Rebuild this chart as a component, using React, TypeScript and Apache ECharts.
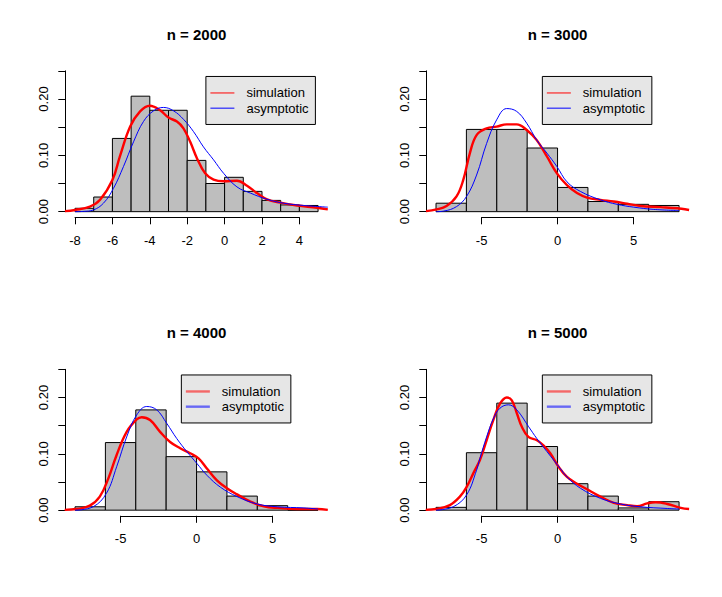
import React, { useEffect, useRef } from "react";
import * as echarts from "echarts";

// ---------------- data ----------------
const panelTitles = ["n = 2000", "n = 3000", "n = 4000", "n = 5000"];
const legendLabels = ["simulation", "asymptotic"];

const breaks2000 = [-8, -7, -6, -5, -4, -3, -2, -1, 0, 1, 2, 3, 4, 5];
const density2000 = [0.006, 0.026, 0.13, 0.205, 0.18, 0.18, 0.091, 0.05, 0.061, 0.036, 0.02, 0.012, 0.011];
const breaksWide = [-8, -6, -4, -2, 0, 2, 4, 6, 8];
const density3000 = [0.015, 0.146, 0.146, 0.113, 0.043, 0.018, 0.013, 0.011];
const density4000 = [0.006, 0.12, 0.178, 0.095, 0.068, 0.025, 0.008, 0];
const density5000 = [0.005, 0.102, 0.19, 0.113, 0.047, 0.025, 0.004, 0.015];

const sim2000 = [[-8.54, 0.001], [-8, 0.003], [-7.2, 0.009], [-6.66, 0.021], [-6, 0.056], [-5.6, 0.098], [-5.05, 0.151], [-4.52, 0.178], [-4, 0.188], [-3.45, 0.18], [-3, 0.167], [-2.55, 0.16], [-2.2, 0.148], [-1.84, 0.124], [-1.48, 0.095], [-1.04, 0.068], [-0.59, 0.057], [-0.05, 0.054], [0.66, 0.055], [1.2, 0.046], [1.73, 0.033], [2.27, 0.022], [2.98, 0.016], [3.88, 0.011], [4.95, 0.007], [5.52, 0.004]];
const asy2000 = [[-8, 0], [-7.55, 0.0005], [-7.02, 0.003], [-6.48, 0.015], [-5.95, 0.041], [-5.41, 0.08], [-4.87, 0.124], [-4.34, 0.16], [-3.8, 0.179], [-3.27, 0.185], [-2.73, 0.179], [-2.2, 0.164], [-1.66, 0.142], [-1.13, 0.115], [-0.59, 0.092], [-0.05, 0.068], [0.66, 0.044], [1.38, 0.033], [2.27, 0.022], [3.16, 0.015], [4.23, 0.011], [5.52, 0.008]];

const sim3000 = [[-8.66, 0.001], [-7.97, 0.004], [-7.31, 0.01], [-6.65, 0.027], [-6.21, 0.056], [-5.77, 0.104], [-5.33, 0.136], [-4.67, 0.148], [-4.01, 0.151], [-3.35, 0.155], [-2.69, 0.155], [-2.03, 0.145], [-1.37, 0.127], [-0.7, 0.098], [-0.04, 0.068], [0.62, 0.047], [1.28, 0.033], [1.94, 0.025], [2.82, 0.021], [3.7, 0.018], [4.58, 0.014], [5.46, 0.01], [6.78, 0.008], [7.89, 0.006], [8.66, 0.003]];
const asy3000 = [[-8, 0], [-7.5, 0.001], [-6.65, 0.009], [-5.99, 0.027], [-5.33, 0.065], [-4.67, 0.121], [-4.01, 0.163], [-3.35, 0.183], [-2.69, 0.178], [-2.03, 0.157], [-1.37, 0.127], [-0.7, 0.104], [-0.04, 0.08], [0.62, 0.053], [1.5, 0.036], [2.82, 0.021], [3.92, 0.013], [5.02, 0.008], [6.34, 0.004], [8, 0.002]];

const sim4000 = [[-8.68, 0.0006], [-7.91, 0.002], [-7.03, 0.008], [-6.37, 0.024], [-5.81, 0.056], [-5.26, 0.098], [-4.6, 0.139], [-3.94, 0.161], [-3.61, 0.165], [-3.06, 0.16], [-2.4, 0.139], [-1.74, 0.121], [-1.08, 0.11], [-0.42, 0.101], [0.13, 0.092], [0.68, 0.074], [1.34, 0.053], [2.0, 0.039], [2.67, 0.028], [3.55, 0.015], [4.43, 0.007], [5.31, 0.004], [6.63, 0.002], [7.95, 0.002], [8.64, 0.0006]];
const asy4000 = [[-8, 0], [-6.81, 0.006], [-5.93, 0.03], [-5.26, 0.077], [-4.6, 0.13], [-3.94, 0.169], [-3.28, 0.184], [-2.62, 0.178], [-1.96, 0.154], [-1.3, 0.127], [-0.64, 0.104], [0.02, 0.083], [0.68, 0.062], [1.56, 0.041], [2.67, 0.024], [3.99, 0.011], [5.31, 0.006], [7.07, 0.004], [8, 0.002]];

const sim5000 = [[-8.68, 0.0006], [-7.97, 0.002], [-7.09, 0.009], [-6.43, 0.024], [-5.99, 0.041], [-5.5, 0.068], [-5.11, 0.089], [-4.67, 0.124], [-4.23, 0.16], [-3.79, 0.189], [-3.34, 0.2], [-3.01, 0.195], [-2.68, 0.172], [-2.35, 0.148], [-1.92, 0.13], [-1.36, 0.124], [-0.93, 0.115], [-0.48, 0.101], [0.07, 0.077], [0.62, 0.059], [1.28, 0.047], [1.94, 0.037], [2.82, 0.024], [3.7, 0.013], [4.58, 0.009], [5.24, 0.007], [5.9, 0.012], [6.45, 0.014], [7.22, 0.011], [8.11, 0.004], [8.66, 0.002]];
const asy5000 = [[-8, 0], [-6.87, 0.006], [-5.99, 0.027], [-5.33, 0.071], [-5.11, 0.092], [-4.67, 0.13], [-4.23, 0.162], [-3.79, 0.181], [-3.23, 0.187], [-2.68, 0.178], [-1.9, 0.148], [-1.36, 0.127], [-0.7, 0.104], [0.18, 0.074], [0.62, 0.059], [1.5, 0.039], [2.82, 0.021], [4.14, 0.011], [5.46, 0.006], [7.22, 0.003], [8, 0.002]];

const xTicks2000 = [-8, 4, 2]; // min, max, step
const xTicksWide = [-5, 5, 5];
const yTicks = [0, 0.25, 0.05]; // min, max, step
const yLabelStep = 0.1;
const yLim = [-0.01, 0.26];
const legendAnchor = [-1, 0.24];

const panels = [
  { title: panelTitles[0], breaks: breaks2000, dens: density2000, sim: sim2000, asy: asy2000, xt: xTicks2000 },
  { title: panelTitles[1], breaks: breaksWide, dens: density3000, sim: sim3000, asy: asy3000, xt: xTicksWide },
  { title: panelTitles[2], breaks: breaksWide, dens: density4000, sim: sim4000, asy: asy4000, xt: xTicksWide },
  { title: panelTitles[3], breaks: breaksWide, dens: density5000, sim: sim5000, asy: asy5000, xt: xTicksWide },
];

// ---------------- layout ----------------
const W = 722;
const H = 597;
const plotLefts = [65.3, 426.3, 65.3, 426.3];
const plotTops = [65.2, 65.2, 363.7, 363.7];
const plotW = 262.5;
const plotH = 152.1;
const FONT = "'Liberation Sans', Arial, Helvetica, sans-serif";

function buildOption() {
  const grid: any[] = [];
  const xAxis: any[] = [];
  const yAxis: any[] = [];
  const series: any[] = [];
  const graphic: any[] = [];

  panels.forEach((p, i) => {
    const left = plotLefts[i];
    const top = plotTops[i];
    const lo = p.breaks[0];
    const hi = p.breaks[p.breaks.length - 1];
    const ext = 0.04 * (hi - lo);
    const xmin = lo - ext;
    const xmax = hi + ext;
    const px = (v: number) => left + ((v - xmin) / (xmax - xmin)) * plotW;
    const py = (v: number) => top + ((yLim[1] - v) / (yLim[1] - yLim[0])) * plotH;

    const gMain = grid.length;
    grid.push({ left, top, width: plotW, height: plotH, containLabel: false });
    xAxis.push({ type: "value", gridIndex: gMain, min: xmin, max: xmax, show: false });
    yAxis.push({ type: "value", gridIndex: gMain, min: yLim[0], max: yLim[1], show: false });

    // y axis grid (spans 0..0.25 exactly)
    const gY = grid.length;
    grid.push({ left, top: py(yTicks[1]), width: plotW, height: py(yTicks[0]) - py(yTicks[1]) });
    xAxis.push({ type: "value", gridIndex: gY, min: 0, max: 1, show: false });
    yAxis.push({
      type: "value",
      gridIndex: gY,
      min: yTicks[0],
      max: yTicks[1],
      interval: yTicks[2],
      axisLine: { show: true, lineStyle: { color: "#000", width: 1 } },
      axisTick: { show: true, length: 7, lineStyle: { color: "#000", width: 1 } },
      splitLine: { show: false },
      axisLabel: {
        show: true,
        rotate: 90,
        margin: 15.5,
        color: "#000",
        fontSize: 13,
        fontFamily: FONT,
        formatter: (v: number) => {
          const k = v / yLabelStep;
          return Math.abs(k - Math.round(k)) < 1e-6 ? v.toFixed(2) : "";
        },
      },
    });

    // x axis grid (spans first..last tick)
    const gX = grid.length;
    const x0 = px(p.xt[0]);
    const x1 = px(p.xt[1]);
    grid.push({ left: x0, top: top + plotH - 10, width: x1 - x0, height: 10 });
    xAxis.push({
      type: "value",
      gridIndex: gX,
      position: "bottom",
      min: p.xt[0],
      max: p.xt[1],
      interval: p.xt[2],
      axisLine: { show: true, onZero: false, lineStyle: { color: "#000", width: 1 } },
      axisTick: { show: true, length: 7, lineStyle: { color: "#000", width: 1 } },
      splitLine: { show: false },
      axisLabel: { show: true, margin: 16.5, color: "#000", fontSize: 13, fontFamily: FONT },
    });
    yAxis.push({ type: "value", gridIndex: gX, min: 0, max: 1, show: false });

    // histogram
    const bins = p.dens.map((d, k) => [p.breaks[k], p.breaks[k + 1], d]);
    series.push({
      type: "custom",
      xAxisIndex: gMain,
      yAxisIndex: gMain,
      data: bins,
      encode: { x: [0, 1], y: 2 },
      clip: true,
      z: 1,
      renderItem: (_params: any, api: any) => {
        const a = api.coord([api.value(0), api.value(2)]);
        const b = api.coord([api.value(1), 0]);
        return {
          type: "rect",
          shape: { x: a[0], y: a[1], width: b[0] - a[0], height: b[1] - a[1] },
          style: { fill: "#bebebe", stroke: "#000", lineWidth: 1 },
        };
      },
    });
    series.push({
      type: "line",
      xAxisIndex: gMain,
      yAxisIndex: gMain,
      data: p.sim,
      smooth: 0.4,
      showSymbol: false,
      symbol: "none",
      clip: true,
      z: 3,
      lineStyle: { color: "#ff0000", width: 2.4 },
    });
    series.push({
      type: "line",
      xAxisIndex: gMain,
      yAxisIndex: gMain,
      data: p.asy,
      smooth: 0.4,
      showSymbol: false,
      symbol: "none",
      clip: true,
      z: 4,
      lineStyle: { color: "#0000ff", width: 1 },
    });

    // title
    graphic.push({
      type: "text",
      x: left + plotW / 2,
      y: top - 31,
      style: {
        text: p.title,
        fill: "#000",
        font: `bold 15px ${FONT}`,
        align: "center",
        verticalAlign: "middle",
      },
    });

    // legend
    const lx = px(legendAnchor[0]);
    const ly = py(legendAnchor[1]);
    const faded = i >= 2;
    const legendColors = faded
      ? ["rgba(255,0,0,0.55)", "rgba(0,0,255,0.55)"]
      : ["#ff0000", "#0000ff"];
    const legendWidth = faded ? 2.4 : 1;
    graphic.push({
      type: "rect",
      shape: { x: lx, y: ly, width: 109.5, height: 48 },
      style: { fill: "#e6e6e6", stroke: "#000", lineWidth: 1 },
      z: 10,
    });
    legendLabels.forEach((lab, k) => {
      const ry = ly + 16.5 + k * 15.2;
      graphic.push({
        type: "line",
        shape: { x1: lx + 4.5, y1: ry, x2: lx + 28.5, y2: ry },
        style: { stroke: legendColors[k], lineWidth: legendWidth },
        z: 11,
      });
      graphic.push({
        type: "text",
        x: lx + 40.5,
        y: ry,
        style: {
          text: lab,
          fill: "#000",
          font: `13px ${FONT}`,
          align: "left",
          verticalAlign: "middle",
        },
        z: 11,
      });
    });
  });

  return {
    animation: false,
    backgroundColor: "#ffffff",
    grid,
    xAxis,
    yAxis,
    series,
    graphic,
  };
}

export default function App() {
  const ref = useRef<HTMLDivElement>(null);
  useEffect(() => {
    document.body.style.margin = "0";
    if (!ref.current) return;
    const chart = echarts.init(ref.current, undefined, { renderer: "svg" });
    chart.setOption(buildOption() as any);
    return () => chart.dispose();
  }, []);
  return (
    <div
      ref={ref}
      style={{ position: "absolute", left: 0, top: 0, width: W, height: H, background: "#fff" }}
    />
  );
}
